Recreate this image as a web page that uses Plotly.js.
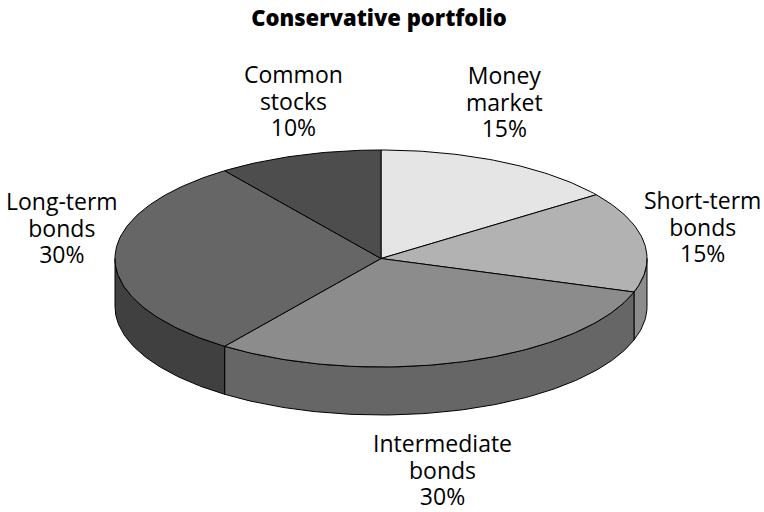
<!DOCTYPE html>
<html><head><meta charset="utf-8">
<script src="https://cdn.plot.ly/plotly-3.0.1.min.js"></script>
<style>html,body{margin:0;padding:0;background:#fff}#chart{width:764px;height:512px}</style>
</head><body><div id="chart"></div>
<script>
const categories = ["Money market","Short-term bonds","Intermediate bonds","Long-term bonds","Common stocks"];
const labelLines = [["Money","market"],["Short-term","bonds"],["Intermediate","bonds"],["Long-term","bonds"],["Common","stocks"]];
const shares = [15,15,30,30,10];
const topColors = ["#e5e5e5","#b2b2b2","#8c8c8c","#666666","#4d4d4d"];
const sideColors = ["#b2b2b2","#8c8c8c","#666666","#404040","#333333"];
const labelX = [504,702,442,62,293];
const labelY = [102,226.5,470,228,101];
const titleText = "Conservative portfolio";

const cx=381, cy=258.5, rx=266, ry=108.5, depth=48, lineGap=26.5, labelSize=23;
const total = shares.reduce((a,b)=>a+b,0);
const P=(deg,dy=0)=>{const t=deg*Math.PI/180;return [cx+rx*Math.sin(t),cy-ry*Math.cos(t)+dy];};
function arc(a,b,dy=0){const n=Math.max(2,Math.ceil(Math.abs(b-a)));const o=[];for(let i=0;i<=n;i++)o.push(P(a+(b-a)*i/n,dy));return o;}
function poly(pts,color,name){return {type:"scatter",mode:"lines",x:pts.map(p=>p[0]),y:pts.map(p=>p[1]),fill:"toself",fillcolor:color,line:{color:"#000",width:1,shape:"linear"},hoverinfo:"text",text:name,name:name,showlegend:false};}

const sides=[],tops=[];
let start=0;
shares.forEach((s,i)=>{
  const end=start+s/total*360;
  const a=Math.max(start,90), b=Math.min(end,270);
  if(b>a){const up=arc(a,b),down=arc(a,b,depth).reverse();sides.push(poly(up.concat(down,[up[0]]),sideColors[i],categories[i]));}
  const w=[[cx,cy]].concat(arc(start,end),[[cx,cy]]);
  tops.push(poly(w,topColors[i],categories[i]));
  start=end;
});

const annotations=categories.map((c,i)=>({x:labelX[i],y:labelY[i],xref:"x",yref:"y",showarrow:false,align:"center",
  text:labelLines[i].concat([shares[i]+"%"]).join("<br>"),font:{family:"Open Sans",size:labelSize,color:"#000"}}));

Plotly.newPlot("chart",sides.concat(tops),{
  width:764,height:512,margin:{l:0,r:0,t:0,b:0},paper_bgcolor:"#fff",plot_bgcolor:"#fff",showlegend:false,
  title:{text:titleText,x:0.496,xanchor:"center",y:0.965,yanchor:"middle",font:{family:"Open Sans",size:22,weight:800,color:"#000"}},
  xaxis:{range:[0,764],visible:false,fixedrange:true},
  yaxis:{range:[512,0],visible:false,fixedrange:true},
  annotations
},{displayModeBar:false,staticPlot:true}).then(gd=>{
  // tighten the three-line labels to the reference's line spacing, keeping the middle line in place
  const base=1.3*labelSize;
  gd.querySelectorAll(".annotation-text").forEach(t=>{
    t.querySelectorAll("tspan.line").forEach((l,k)=>{l.setAttribute("dy",(k*base+(1-k)*(base-lineGap))+"px");});
  });
});
</script></body></html>
